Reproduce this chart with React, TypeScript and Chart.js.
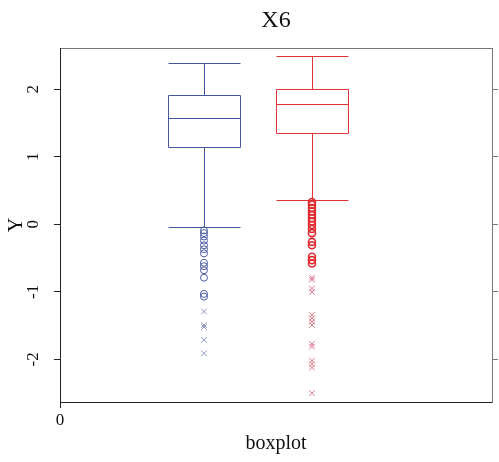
import React, { useEffect, useRef } from 'react';
import { Chart, registerables } from 'chart.js';

Chart.register(...registerables);

// ---- data ----
const chartTitle = 'X6';
const xTitle = 'boxplot';
const yTitle = 'Y';
const groupColors = ['#4556a0', '#e2353a'];
const groupPositions = [1.333, 2.333];
const whiskerLow = [-0.04, 0.355];
const quartile1 = [1.14, 1.35];
const medians = [1.57, 1.78];
const quartile3 = [1.92, 2.01];
const whiskerHigh = [2.39, 2.49];

const blueMild = [-0.09, -0.13, -0.18, -0.24, -0.31, -0.37, -0.43, -0.57, -0.62, -0.68, -0.79, -1.03, -1.07];
const blueExtreme = [-1.29, -1.49, -1.52, -1.71, -1.91];
const redMild = [0.33, 0.29, 0.24, 0.19, 0.14, 0.09, 0.04, -0.01, -0.07, -0.13, -0.26, -0.31, -0.48, -0.53, -0.58];
const redExtreme = [-0.79, -0.82, -0.95, -1.0, -1.34, -1.39, -1.44, -1.49, -1.77, -1.81, -2.02, -2.07, -2.12, -2.5];

const yTicks = [-2, -1, 0, 1, 2];
const xTicks = [0];
const yMin = -2.63;
const yMax = 2.61;
const xMin = 0;
const xMax = 4;
const boxHalfWidth = 1 / 3;

const FONT = '"Liberation Serif", "DejaVu Serif", serif';

const boxPlugin = {
  id: 'boxes',
  beforeDatasetsDraw(chart: any) {
    const { ctx, scales } = chart;
    const xs = scales.x;
    const ys = scales.y;
    const r = (v: number) => Math.round(v) + 0.5;
    ctx.save();
    ctx.lineWidth = 1;
    groupPositions.forEach((pos, i) => {
      const cx = r(xs.getPixelForValue(pos));
      const left = r(xs.getPixelForValue(pos - boxHalfWidth));
      const right = r(xs.getPixelForValue(pos + boxHalfWidth));
      const yq1 = r(ys.getPixelForValue(quartile1[i]));
      const yq3 = r(ys.getPixelForValue(quartile3[i]));
      const ymed = r(ys.getPixelForValue(medians[i]));
      const ylo = r(ys.getPixelForValue(whiskerLow[i]));
      const yhi = r(ys.getPixelForValue(whiskerHigh[i]));
      ctx.strokeStyle = groupColors[i];
      ctx.beginPath();
      ctx.rect(left, yq3, right - left, yq1 - yq3);
      ctx.moveTo(left, ymed);
      ctx.lineTo(right, ymed);
      ctx.moveTo(cx, yq3);
      ctx.lineTo(cx, yhi);
      ctx.moveTo(cx, yq1);
      ctx.lineTo(cx, ylo);
      ctx.moveTo(left, yhi);
      ctx.lineTo(right, yhi);
      ctx.moveTo(left, ylo);
      ctx.lineTo(right, ylo);
      ctx.stroke();
    });
    ctx.restore();
  },
};

const textPlugin = {
  id: 'texts',
  afterDraw(chart: any) {
    const { ctx, scales, chartArea } = chart;
    const xs = scales.x;
    const ys = scales.y;
    ctx.save();
    ctx.fillStyle = '#111';
    // title
    ctx.font = `24px ${FONT}`;
    ctx.textAlign = 'center';
    ctx.textBaseline = 'middle';
    ctx.fillText(chartTitle, (chartArea.left + chartArea.right) / 2, 21);
    // x tick labels
    ctx.font = `17px ${FONT}`;
    ctx.textBaseline = 'middle';
    xTicks.forEach((v) => {
      ctx.fillText(String(v), xs.getPixelForValue(v), chartArea.bottom + 19);
    });
    // x title
    ctx.font = `20px ${FONT}`;
    ctx.fillText(xTitle, (chartArea.left + chartArea.right) / 2, 444);
    // y tick labels rotated
    ctx.font = `17px ${FONT}`;
    yTicks.forEach((v) => {
      const py = ys.getPixelForValue(v);
      ctx.save();
      ctx.translate(chartArea.left - 26, py);
      ctx.rotate(-Math.PI / 2);
      ctx.fillText(String(v), 0, 0);
      ctx.restore();
    });
    // y title
    ctx.font = `20px ${FONT}`;
    ctx.save();
    ctx.translate(17, (chartArea.top + chartArea.bottom) / 2);
    ctx.rotate(-Math.PI / 2);
    ctx.fillText(yTitle, 0, 0);
    ctx.restore();
    ctx.restore();
  },
};

export default function App() {
  const ref = useRef<HTMLCanvasElement | null>(null);
  useEffect(() => {
    if (!ref.current) return;
    const pts = (pos: number, arr: number[]) => arr.map((y) => ({ x: pos, y }));
    const chart = new Chart(ref.current, {
      type: 'scatter',
      data: {
        datasets: [
          {
            label: 'blue mild',
            data: pts(groupPositions[0], blueMild),
            pointStyle: 'circle',
            pointRadius: 3.5,
            borderColor: '#4a5a9c',
            backgroundColor: 'rgba(255,255,255,0)',
            borderWidth: 1,
          },
          {
            label: 'blue extreme',
            data: pts(groupPositions[0], blueExtreme),
            pointStyle: 'crossRot',
            pointRadius: 4,
            borderColor: '#8d97c2',
            backgroundColor: 'rgba(255,255,255,0)',
            borderWidth: 1,
          },
          {
            label: 'red mild',
            data: pts(groupPositions[1], redMild),
            pointStyle: 'circle',
            pointRadius: 3.5,
            borderColor: '#e02a30',
            backgroundColor: 'rgba(255,255,255,0)',
            borderWidth: 1.6,
          },
          {
            label: 'red extreme',
            data: pts(groupPositions[1], redExtreme),
            pointStyle: 'crossRot',
            pointRadius: 4,
            borderColor: '#d4788a',
            backgroundColor: 'rgba(255,255,255,0)',
            borderWidth: 1,
          },
        ],
      },
      options: {
        responsive: false,
        animation: false,
        devicePixelRatio: 1,
        layout: { padding: { top: 48, left: 0, right: 0, bottom: 0 }, autoPadding: false },
        plugins: {
          legend: { display: false },
          title: { display: false },
          tooltip: { enabled: false },
        },
        scales: {
          x: {
            type: 'linear',
            position: 'bottom',
            min: xMin,
            max: xMax,
            afterBuildTicks: (s: any) => {
              s.ticks = xTicks.map((v) => ({ value: v }));
            },
            afterFit: (s: any) => {
              s.height = 60;
            },
            ticks: { display: false },
            grid: { drawOnChartArea: false, drawTicks: true, tickLength: 6, color: '#222' },
            border: { display: true, color: '#222' },
          },
          x2: {
            type: 'linear',
            position: 'top',
            min: xMin,
            max: xMax,
            afterFit: (s: any) => {
              s.height = 0;
            },
            ticks: { display: false },
            grid: { display: false, drawTicks: false },
            border: { display: true, color: '#777' },
          },
          y: {
            type: 'linear',
            position: 'left',
            min: yMin,
            max: yMax,
            afterBuildTicks: (s: any) => {
              s.ticks = yTicks.map((v) => ({ value: v }));
            },
            afterFit: (s: any) => {
              s.width = 60;
            },
            ticks: { display: false },
            grid: { drawOnChartArea: false, drawTicks: true, tickLength: 6, color: '#222' },
            border: { display: true, color: '#222' },
          },
          y2: {
            type: 'linear',
            position: 'right',
            min: yMin,
            max: yMax,
            afterBuildTicks: (s: any) => {
              s.ticks = yTicks.map((v) => ({ value: v }));
            },
            afterFit: (s: any) => {
              s.width = 7;
            },
            ticks: { display: false },
            grid: { drawOnChartArea: false, drawTicks: true, tickLength: 6, color: '#777' },
            border: { display: true, color: '#777' },
          },
        },
      } as any,
      plugins: [boxPlugin, textPlugin],
    });
    return () => chart.destroy();
  }, []);
  return (
    <div style={{ position: 'fixed', left: 0, top: 0, width: 499, height: 462, background: '#fff' }}>
      <canvas ref={ref} width={499} height={462} style={{ display: 'block', width: 499, height: 462 }} />
    </div>
  );
}
